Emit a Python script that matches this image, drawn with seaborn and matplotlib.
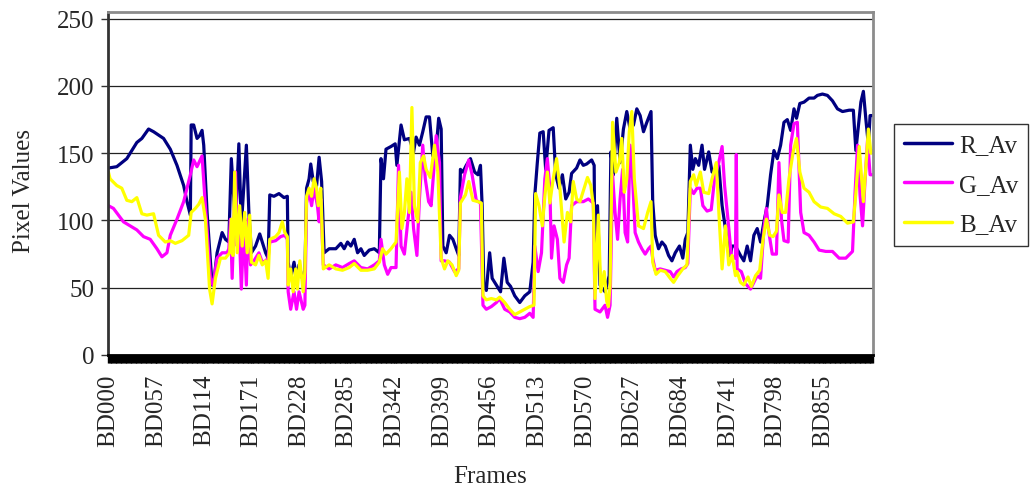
import matplotlib
matplotlib.use("Agg")
import matplotlib.pyplot as plt
import pandas as pd
import seaborn as sns

# (frame, value) points
R_AV = [(0, 139), (10, 140), (14, 142), (22, 146), (34, 158), (40, 161), (48, 168), (54, 166),
        (66, 161), (74, 153), (82, 141), (90, 126), (94, 114), (98, 104), (99, 171), (102, 171),
        (106, 161), (109, 163), (112, 167), (114, 156), (118, 106), (124, 52), (126, 54), (130, 76),
        (136, 91), (140, 86), (144, 84), (147, 146), (152, 96), (156, 157), (159, 96), (165, 156),
        (168, 106), (171, 76), (176, 81), (181, 90), (184, 84), (188, 76), (191, 72), (193, 119),
        (198, 118), (204, 120), (210, 117), (214, 118), (215, 69), (218, 57), (222, 69), (225, 57),
        (228, 67), (232, 57), (235, 60), (237, 124), (240, 131), (242, 142), (245, 129), (249, 126),
        (252, 147), (255, 129), (258, 76), (264, 79), (272, 79), (278, 83), (282, 79), (286, 84),
        (290, 81), (294, 86), (298, 76), (302, 79), (306, 74), (312, 78), (318, 79), (324, 76),
        (326, 146), (329, 131), (332, 153), (338, 155), (343, 157), (345, 141), (350, 171),
        (354, 160), (360, 161), (365, 151), (368, 162), (372, 156), (376, 166), (380, 177),
        (384, 177), (388, 148), (392, 153), (395, 176), (398, 168), (400, 81), (404, 76), (408, 89),
        (412, 86), (416, 79), (419, 74), (421, 138), (424, 136), (428, 141), (433, 146), (438, 136),
        (442, 134), (445, 141), (447, 111), (449, 52), (452, 48), (456, 76), (459, 57), (464, 52),
        (469, 47), (473, 72), (477, 54), (481, 51), (486, 44), (492, 39), (498, 44), (504, 47),
        (508, 69), (510, 119), (513, 143), (516, 165), (520, 166), (523, 138), (527, 167),
        (532, 169), (535, 134), (539, 124), (543, 134), (547, 116), (551, 121), (554, 135),
        (560, 139), (564, 145), (568, 141), (572, 142), (578, 145), (581, 141), (582, 49),
        (585, 111), (588, 52), (594, 47), (597, 54), (599, 59), (601, 151), (604, 134), (608, 176),
        (612, 143), (616, 168), (620, 181), (624, 168), (628, 171), (632, 183), (636, 178),
        (640, 166), (644, 173), (649, 181), (651, 114), (654, 89), (658, 79), (662, 84), (666, 81),
        (670, 74), (674, 70), (678, 76), (683, 81), (687, 72), (690, 86), (693, 91), (696, 156),
        (699, 138), (702, 146), (706, 141), (710, 156), (713, 138), (718, 151), (722, 136),
        (726, 138), (730, 141), (734, 111), (738, 94), (743, 72), (746, 81), (750, 81), (756, 74),
        (760, 70), (764, 81), (768, 70), (772, 89), (776, 94), (780, 84), (784, 99), (788, 111),
        (792, 134), (796, 152), (800, 146), (804, 156), (808, 173), (812, 175), (816, 167),
        (820, 183), (823, 176), (827, 187), (832, 188), (838, 191), (844, 191), (848, 193),
        (854, 194), (860, 193), (866, 189), (872, 183), (878, 181), (886, 182), (891, 182),
        (894, 152), (897, 170), (900, 188), (903, 196), (906, 175), (909, 156), (911, 178),
        (914, 178)]

G_AV = [(0, 111), (6, 109), (18, 99), (26, 96), (34, 93), (42, 88), (50, 86), (58, 79), (64, 73),
        (70, 76), (74, 89), (82, 101), (90, 114), (98, 134), (102, 145), (106, 140), (112, 148),
        (116, 111), (122, 57), (125, 52), (130, 72), (136, 76), (142, 76), (144, 79), (146, 101),
        (148, 57), (152, 136), (154, 81), (156, 101), (159, 49), (162, 96), (165, 52), (167, 101),
        (170, 67), (174, 70), (180, 76), (184, 69), (188, 70), (191, 72), (193, 84), (200, 85),
        (206, 88), (211, 89), (214, 86), (215, 47), (218, 34), (222, 47), (225, 34), (228, 47),
        (233, 34), (235, 37), (237, 113), (240, 122), (243, 111), (246, 124), (250, 111), (252, 99),
        (254, 116), (257, 67), (264, 64), (272, 67), (280, 65), (288, 68), (294, 70), (302, 65),
        (310, 64), (318, 67), (324, 70), (326, 86), (330, 67), (334, 60), (338, 65), (344, 65),
        (347, 141), (350, 81), (354, 75), (358, 99), (362, 121), (365, 94), (369, 74), (372, 116),
        (376, 156), (379, 131), (383, 114), (386, 111), (389, 136), (392, 163), (396, 143),
        (398, 70), (402, 70), (408, 69), (414, 62), (419, 64), (421, 117), (426, 134), (431, 145),
        (435, 134), (440, 115), (445, 113), (448, 37), (452, 34), (458, 36), (464, 39), (468, 42),
        (474, 34), (480, 32), (486, 28), (492, 27), (498, 28), (504, 31), (508, 28), (510, 81),
        (514, 62), (518, 76), (522, 131), (525, 146), (528, 124), (530, 72), (533, 96), (537, 86),
        (540, 57), (544, 54), (548, 67), (551, 72), (554, 111), (560, 114), (568, 114), (574, 116),
        (580, 113), (582, 34), (588, 32), (594, 37), (597, 28), (600, 37), (603, 134), (606, 106),
        (609, 86), (612, 116), (615, 138), (618, 91), (621, 84), (624, 156), (627, 131), (630, 91),
        (634, 84), (638, 79), (642, 75), (646, 79), (649, 81), (651, 72), (654, 63), (660, 64),
        (666, 63), (672, 62), (676, 58), (680, 62), (685, 64), (690, 65), (693, 68), (696, 124),
        (700, 120), (704, 124), (708, 124), (711, 111), (716, 107), (721, 108), (725, 131),
        (730, 143), (734, 155), (737, 126), (741, 101), (745, 74), (748, 72), (750, 72), (751, 149),
        (752, 64), (757, 62), (762, 53), (768, 49), (772, 54), (776, 59), (780, 57), (784, 94),
        (787, 109), (790, 91), (794, 75), (799, 75), (802, 143), (805, 101), (808, 85), (813, 84),
        (816, 156), (820, 172), (824, 173), (828, 106), (832, 91), (838, 89), (844, 84), (850, 78),
        (858, 77), (866, 77), (874, 72), (882, 72), (890, 77), (893, 120), (896, 156), (899, 119),
        (902, 96), (905, 130), (908, 160), (911, 134), (914, 134)]

B_AV = [(0, 136), (2, 131), (10, 126), (16, 124), (22, 115), (28, 114), (34, 117), (40, 105),
        (46, 104), (54, 105), (60, 89), (68, 84), (74, 85), (80, 83), (88, 85), (96, 89), (99, 106),
        (104, 109), (108, 112), (112, 117), (116, 101), (121, 49), (124, 38), (128, 57), (134, 72),
        (140, 72), (145, 76), (147, 101), (149, 74), (151, 136), (154, 76), (157, 111), (160, 81),
        (163, 106), (166, 76), (169, 104), (171, 69), (176, 67), (180, 74), (184, 67), (188, 70),
        (191, 57), (193, 86), (200, 88), (204, 91), (208, 99), (211, 91), (214, 88), (215, 52),
        (218, 64), (221, 47), (224, 64), (226, 49), (229, 70), (233, 47), (235, 62), (237, 118),
        (240, 124), (243, 118), (246, 131), (249, 124), (251, 111), (254, 124), (257, 64),
        (264, 67), (272, 64), (280, 63), (288, 65), (294, 68), (302, 63), (310, 63), (318, 64),
        (324, 69), (328, 79), (332, 75), (338, 79), (344, 84), (348, 136), (351, 94), (354, 106),
        (357, 131), (360, 106), (363, 184), (366, 111), (370, 99), (373, 143), (377, 148),
        (380, 138), (385, 132), (390, 156), (394, 136), (398, 72), (402, 64), (406, 70), (411, 67),
        (416, 59), (419, 63), (421, 113), (427, 119), (431, 129), (436, 115), (442, 114),
        (446, 113), (448, 44), (452, 41), (458, 42), (464, 41), (468, 43), (474, 39), (480, 34),
        (486, 30), (492, 32), (498, 34), (504, 36), (509, 37), (511, 120), (515, 111), (519, 96),
        (522, 118), (525, 136), (528, 113), (532, 131), (536, 146), (540, 124), (545, 84),
        (549, 106), (553, 99), (556, 129), (560, 116), (564, 114), (569, 124), (573, 132),
        (577, 126), (580, 111), (582, 42), (586, 104), (589, 47), (593, 62), (596, 40), (598, 36),
        (600, 52), (603, 173), (607, 136), (611, 143), (614, 161), (617, 121), (620, 131),
        (623, 166), (626, 181), (629, 131), (634, 96), (640, 94), (645, 106), (649, 114), (651, 69),
        (655, 60), (660, 63), (666, 62), (672, 57), (676, 54), (681, 59), (687, 64), (692, 67),
        (696, 129), (700, 134), (703, 126), (708, 136), (712, 121), (718, 120), (722, 131),
        (727, 143), (731, 96), (734, 64), (738, 96), (742, 67), (746, 74), (750, 59), (752, 62),
        (756, 54), (760, 52), (765, 58), (769, 51), (774, 59), (779, 63), (783, 86), (787, 101),
        (791, 89), (795, 88), (799, 92), (802, 119), (806, 106), (810, 106), (814, 131), (819, 151),
        (823, 161), (827, 136), (832, 124), (838, 121), (844, 114), (852, 110), (860, 109),
        (868, 105), (876, 103), (884, 98), (891, 99), (894, 120), (898, 155), (903, 114),
        (906, 140), (909, 168), (912, 150), (914, 152)]

SERIES = ["R_Av", "G_Av", "B_Av"]
COLORS = ["#000080", "#FF00FF", "#FFFF00"]
N_FRAMES = 915
LABEL_STEP = 57

sns.set_style("white")
plt.rcParams["font.family"] = ["Liberation Serif", "DejaVu Serif"]

frames = []
for name, pts in zip(SERIES, [R_AV, G_AV, B_AV]):
    d = pd.DataFrame(pts, columns=["frame", "value"]).drop_duplicates("frame")
    d["series"] = name
    frames.append(d)
df = pd.concat(frames, ignore_index=True)

fig = plt.figure(figsize=(10.3, 4.89), dpi=100)
ax = fig.add_axes([108 / 1030, 1 - 356 / 489, 765 / 1030, 343 / 489])

for name, col in zip(SERIES, COLORS):
    sub = df[df["series"] == name]
    sns.lineplot(data=sub, x="frame", y="value", color=col, lw=2.3, ax=ax, label=name,
                 estimator=None, sort=True)

ax.set_xlim(-0.5, N_FRAMES - 0.5)
ax.set_ylim(0, 255)
ax.set_yticks(range(0, 251, 50))
ax.yaxis.grid(True, color="#222222", lw=0.9)
ax.set_axisbelow(True)

ticks = list(range(0, N_FRAMES - 50, LABEL_STEP))
ax.set_xticks(ticks)
ax.set_xticklabels([f"BD{t:03d}" for t in ticks], rotation=90)
ax.set_xticks([i + 0.5 for i in range(N_FRAMES)], minor=True)
ax.tick_params(axis="x", which="both", direction="out", length=5.5, width=1, color="black",
               bottom=True)
ax.tick_params(axis="x", which="major", labelsize=18, pad=8)
ax.tick_params(axis="y", direction="out", length=5, width=1, color="#333333", left=True,
               labelsize=18, pad=5)

for side in ["top", "right"]:
    ax.spines[side].set_color("#8c8c8c")
    ax.spines[side].set_linewidth(2)
ax.spines["left"].set_color("#333333")
ax.spines["left"].set_linewidth(2)
ax.spines["bottom"].set_color("black")
ax.spines["bottom"].set_linewidth(2)

ax.set_ylabel("Pixel Values", fontsize=18)
ax.yaxis.set_label_coords(-0.095, 0.48)
ax.set_xlabel("Frames", fontsize=18)
ax.xaxis.set_label_coords(0.5, -0.32)

ax.legend_.remove()
handles, labels = ax.get_legend_handles_labels()
leg = fig.legend(handles, labels, loc="upper left", bbox_to_anchor=(894 / 1030, 1 - 125 / 489),
                 fontsize=18, frameon=True, fancybox=False, edgecolor="black",
                 handlelength=1.9, handletextpad=0.3, labelspacing=0.68, borderpad=0.4,
                 borderaxespad=0)
leg.get_frame().set_linewidth(1)
for h in leg.get_lines():
    h.set_linewidth(2.5)

fig.savefig("out.png", dpi=100)
